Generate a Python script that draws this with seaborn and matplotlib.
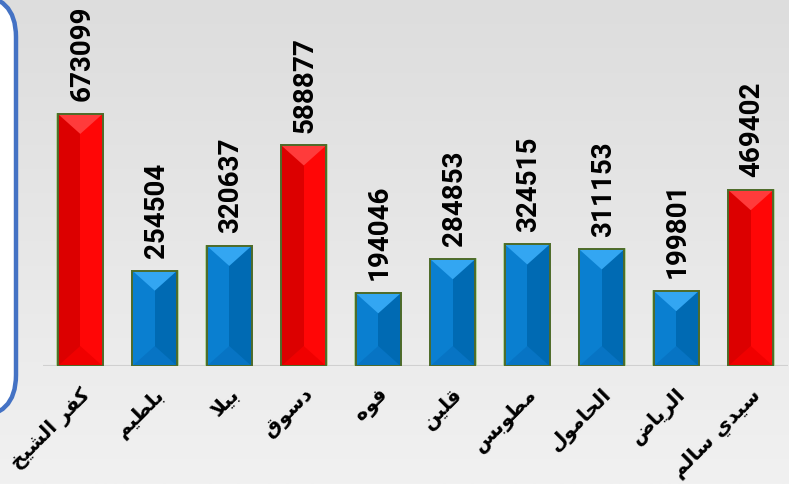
import matplotlib
matplotlib.use("Agg")
import matplotlib.pyplot as plt
import numpy as np
import pandas as pd
import seaborn as sns
from matplotlib.patches import FancyBboxPatch, Polygon, Rectangle

# data
centers = ["كفر الشيخ", "بلطيم", "بيلا", "دسوق", "فوه", "قلين", "مطوبس", "الحامول", "الرياض", "سيدي سالم"]
values = [673099, 254504, 320637, 588877, 194046, 284853, 324515, 311153, 199801, 469402]

# minimal arabic shaping (matplotlib has no text shaping): presentation forms
FORMS = {
    "ا": (0xFE8D, 0xFE8E, None, None),
    "ب": (0xFE8F, 0xFE90, 0xFE91, 0xFE92),
    "ح": (0xFEA1, 0xFEA2, 0xFEA3, 0xFEA4),
    "خ": (0xFEA5, 0xFEA6, 0xFEA7, 0xFEA8),
    "د": (0xFEA9, 0xFEAA, None, None),
    "ر": (0xFEAD, 0xFEAE, None, None),
    "س": (0xFEB1, 0xFEB2, 0xFEB3, 0xFEB4),
    "ش": (0xFEB5, 0xFEB6, 0xFEB7, 0xFEB8),
    "ض": (0xFEBD, 0xFEBE, 0xFEBF, 0xFEC0),
    "ط": (0xFEC1, 0xFEC2, 0xFEC3, 0xFEC4),
    "ف": (0xFED1, 0xFED2, 0xFED3, 0xFED4),
    "ق": (0xFED5, 0xFED6, 0xFED7, 0xFED8),
    "ك": (0xFED9, 0xFEDA, 0xFEDB, 0xFEDC),
    "ل": (0xFEDD, 0xFEDE, 0xFEDF, 0xFEE0),
    "م": (0xFEE1, 0xFEE2, 0xFEE3, 0xFEE4),
    "ن": (0xFEE5, 0xFEE6, 0xFEE7, 0xFEE8),
    "ه": (0xFEE9, 0xFEEA, 0xFEEB, 0xFEEC),
    "و": (0xFEED, 0xFEEE, None, None),
    "ي": (0xFEF1, 0xFEF2, 0xFEF3, 0xFEF4),
}


def dual(ch):
    return ch in FORMS and FORMS[ch][2] is not None


def shape(word):
    out = []
    i = 0
    while i < len(word):
        ch = word[i]
        if ch not in FORMS:
            out.append(ch)
            i += 1
            continue
        prev_joins = i > 0 and dual(word[i - 1])
        if ch == "ل" and i + 1 < len(word) and word[i + 1] == "ا":
            out.append(chr(0xFEFC if prev_joins else 0xFEFB))
            i += 2
            continue
        nxt = word[i + 1] if i + 1 < len(word) else ""
        next_joins = dual(ch) and nxt in FORMS
        iso, fin, ini, med = FORMS[ch]
        if prev_joins and next_joins:
            out.append(chr(med))
        elif prev_joins:
            out.append(chr(fin))
        elif next_joins:
            out.append(chr(ini))
        else:
            out.append(chr(iso))
        i += 1
    return "".join(out)[::-1]


df = pd.DataFrame({"center": centers, "value": values})
top3 = sorted(values)[-3:]
palette = {c: ("#ff0000" if v in top3 else "#0a7fd0") for c, v in zip(centers, values)}

W, H = 789, 485
fig = plt.figure(figsize=(W / 100, H / 100), dpi=100)

# background gradient + rounded frame on the left
bg = fig.add_axes([0, 0, 1, 1], zorder=0)
grad = np.linspace(0, 1, 256).reshape(-1, 1)
bg.imshow(grad, extent=[0, W, H, 0], cmap=matplotlib.colors.LinearSegmentedColormap.from_list(
    "bg", ["#dddddd", "#f1f1f1"]), aspect="auto")
bg.add_patch(FancyBboxPatch((-80, -4), 96, 422, boxstyle="round,pad=0,rounding_size=42",
                            facecolor="white", edgecolor="#4472c4", lw=3.2))
bg.set_xlim(0, W)
bg.set_ylim(H, 0)
bg.axis("off")

ax = fig.add_axes([43 / W, (H - 367) / H, (788 - 43) / W, 367 / H], zorder=1)
ax.set_facecolor("none")
sns.barplot(data=df, x="center", y="value", hue="center", palette=palette,
            width=0.6, legend=False, ax=ax, saturation=1,
            edgecolor="#4e6b2a", linewidth=1.4)
ax.set_xlim(-0.5, 9.5)
ax.set_ylim(0, 980000)

# bevel shading on each bar
yr = 980000 / 367.0
for p, v in zip(ax.patches, values):
    x0, w, h = p.get_x(), p.get_width(), p.get_height()
    xc = x0 + w / 2
    d = 20 * yr
    red = v in top3
    left_c, right_c = ("#dc0000", "#ff0606") if red else ("#0a7fd0", "#006ab3")
    top_c, bot_c = ("#ff3b3b", "#f00000") if red else ("#33a6f2", "#0774c4")
    ax.add_patch(Rectangle((x0 - 0.012, 0), w + 0.024, h, facecolor="none",
                           edgecolor="#a9d08e", lw=1.2, zorder=2))
    ax.add_patch(Rectangle((x0, 0), w / 2, h, facecolor=left_c, lw=0, zorder=3))
    ax.add_patch(Rectangle((xc, 0), w / 2, h, facecolor=right_c, lw=0, zorder=3))
    ax.add_patch(Polygon([(x0, h), (x0 + w, h), (xc, h - d)], closed=True,
                         facecolor=top_c, lw=0, zorder=3))
    ax.add_patch(Polygon([(x0, 0), (x0 + w, 0), (xc, d)], closed=True,
                         facecolor=bot_c, lw=0, zorder=3))
    ax.add_patch(Rectangle((x0, 0), w, h, facecolor="none", edgecolor="#4e6b2a",
                           lw=1.4, zorder=4))
    ax.annotate(f"{v}", (xc, h), xytext=(1, 10), textcoords="offset points",
                rotation=90, ha="center", va="bottom", fontsize=20,
                fontweight="bold", family="Roboto", color="black")

ax.axhline(0, color="#d0d0d0", lw=1.5, zorder=1)
for s in ["top", "right", "left", "bottom"]:
    ax.spines[s].set_visible(False)
ax.set_yticks([])
ax.set_xlabel("")
ax.set_ylabel("")
ax.set_xticks(range(len(centers)))
ax.set_xticklabels([shape(c) for c in centers], rotation=45, ha="right",
                   rotation_mode="anchor", fontsize=14.5, fontweight="bold",
                   family="DejaVu Sans")
ax.tick_params(axis="x", length=0, pad=13)

fig.savefig("out.png", dpi=100)
